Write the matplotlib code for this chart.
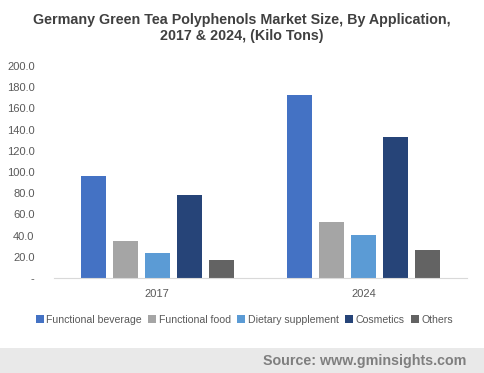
import matplotlib
matplotlib.use("Agg")
import matplotlib.pyplot as plt
import numpy as np
from matplotlib.patches import Rectangle

plt.rcParams['font.family'] = ['Liberation Sans', 'DejaVu Sans']

years = ["2017", "2024"]
segments = ["Functional beverage", "Functional food", "Dietary supplement", "Cosmetics", "Others"]
values = {
    "Functional beverage": [96.0, 172.4],
    "Functional food": [34.6, 52.8],
    "Dietary supplement": [23.3, 40.3],
    "Cosmetics": [78.0, 132.7],
    "Others": [16.7, 26.1],
}
colors = ["#4472C4", "#A5A5A5", "#5B9BD5", "#264478", "#636363"]
yticks = [0, 20, 40, 60, 80, 100, 120, 140, 160, 180, 200]

fig = plt.figure(figsize=(4.84, 3.73), dpi=100)
ax = fig.add_axes([0.1116, 0.2547, 0.8534, 0.5683])

x = np.arange(len(years))
width = 0.121
step = 0.155
for i, seg in enumerate(segments):
    ax.bar(x + (i - 2) * step, values[seg], width, color=colors[i], label=seg)

ax.set_xlim(-0.5, 1.5)
ax.set_ylim(0, 200)
ax.set_xticks(x)
ax.set_xticklabels(years)
ax.set_yticks(yticks)
ax.set_yticklabels(["-"] + ["%.1f" % v for v in yticks[1:]])
ax.tick_params(axis='both', length=0, labelsize=8, colors="#595959")
ax.tick_params(axis='x', pad=8)
ax.tick_params(axis='y', pad=14)
for s in ["top", "right", "left"]:
    ax.spines[s].set_visible(False)
ax.spines["bottom"].set_color("#D9D9D9")

fig.text(0.5, 0.965, "Germany Green Tea Polyphenols Market Size, By Application,\n2017 & 2024, (Kilo Tons)",
         ha="center", va="top", fontsize=10.3, fontweight="bold", color="#404040", linespacing=1.2)

ax.legend(loc="center", bbox_to_anchor=(0.461, -0.198), ncol=5, frameon=False,
          fontsize=7.6, handlelength=0.75, handleheight=0.75, handletextpad=0.25,
          columnspacing=0.6, labelcolor="#595959", borderaxespad=0, borderpad=0)

fig.patches.append(Rectangle((0, 0), 1, 25 / 373, transform=fig.transFigure,
                             facecolor="#E9E9E9", edgecolor="none", zorder=0))
fig.text(0.963, 12.5 / 373, "Source: www.gminsights.com", ha="right", va="center",
         fontsize=10.3, fontweight="bold", color="#7F7F7F")

fig.savefig("out.png", dpi=100)
